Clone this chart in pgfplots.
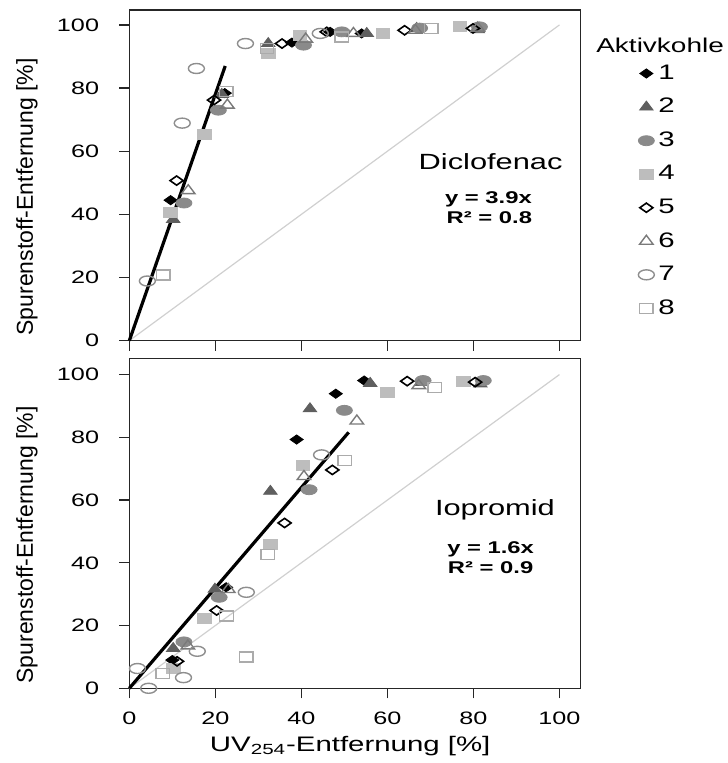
\documentclass[border=0pt]{standalone}
\usepackage{fontspec}
\setmainfont{Liberation Sans}[FakeStretch=1.4]
\newfontfamily\plainfont{Liberation Sans}
\usepackage{pgfplots}
\pgfplotsset{compat=1.18}
\definecolor{cA}{HTML}{000000}
\definecolor{cB}{HTML}{5F5F5F}
\definecolor{cC}{HTML}{8A8A8A}
\definecolor{cD}{HTML}{BDBDBD}
\definecolor{cF}{HTML}{7A7A7A}
\definecolor{cG}{HTML}{8E8E8E}
\definecolor{cH}{HTML}{ABABAB}
\definecolor{idline}{HTML}{D0D0D0}
\pgfplotsset{
  panel/.style={scale only axis, width=225.4pt, xmin=0, xmax=104.8, ymin=0, clip=false,
    xtick={0,20,...,100}, ytick={0,20,...,100}, tick align=outside, tick pos=left,
    major tick length=5pt,
    axis line style={line width=0.6pt, black!85},
    tick style={line width=0.6pt, black!85},
    /pgf/number format/assume math mode=true,
    ticklabel style={font=\fontsize{9}{9}\selectfont},
    yticklabel style={xshift=-6.6pt},
    ylabel={Spurenstoff-Entfernung [\%]},
    ylabel style={at={(axis description cs:-0.227,0.435)}, anchor=center, font=\plainfont\fontsize{11.5}{12}\selectfont},
    legend image code/.code={\draw[mark repeat=2,mark phase=2,##1] plot coordinates {(0cm,0cm)(0.16cm,0cm)(0.32cm,0cm)};},
  },
  sA/.style={only marks, mark=diamond*, mark size=2.3pt, mark options={xscale=1.9, fill=cA, draw=cA}},
  sB/.style={only marks, mark=triangle*, mark size=3pt, mark options={xscale=1.3, fill=cB, draw=cB}},
  sC/.style={only marks, mark=*, mark size=2.5pt, mark options={xscale=1.6, fill=cC, draw=cC}},
  sD/.style={only marks, mark=square*, mark size=2.5pt, mark options={xscale=1.35, fill=cD, draw=cD}},
  sE/.style={only marks, mark=diamond, mark size=2.3pt, mark options={xscale=1.9, draw=cA, line width=0.8pt}},
  sF/.style={only marks, mark=triangle, mark size=3pt, mark options={xscale=1.3, draw=cF, line width=0.7pt}},
  sG/.style={only marks, mark=o, mark size=2.5pt, mark options={xscale=1.6, draw=cG, line width=0.7pt}},
  sH/.style={only marks, mark=square, mark size=2.5pt, mark options={xscale=1.35, draw=cH, line width=0.7pt}},
}
\begin{document}
\begin{tikzpicture}
\useasboundingbox (0,0) rectangle (363.5pt,381.5pt);
% ---------- Diclofenac ----------
\begin{axis}[panel, at={(64.65pt,211.15pt)}, anchor=south west, height=165.3pt, ymax=104.7,
  xticklabels={},
  legend cell align=left,
  legend style={at={(axis description cs:1.115,0.86)}, anchor=north west, draw=none, fill=none,
    font=\fontsize{10.5}{11}\selectfont, row sep=4pt},
]
\addplot[idline, line width=0.6pt, forget plot] coordinates {(0,0)(100,100)};
\addplot[sA] coordinates {(9.6,44.5)(22.2,78.4)(37.8,94.4)(46.7,97.8)(54,97.3)};
\addlegendentry{1}
\addplot[sB] coordinates {(10.2,38.4)(21.5,78)(32.3,94.1)(55.2,97.3)(66.8,98.9)(81,98.5)};
\addlegendentry{2}
\addplot[sC] coordinates {(12.7,43.6)(20.7,73)(40.5,93.6)(49.4,97.8)(67.5,99)(81.4,99.4)};
\addlegendentry{3}
\addplot[sD] coordinates {(9.6,40.5)(17.4,65.2)(32.3,91)(39.7,96.7)(59,97.3)(76.8,99.4)};
\addlegendentry{4}
\addplot[sE] coordinates {(11,50.7)(19.7,76.2)(35.5,94.1)(45.9,97.8)(64,98.3)(79.9,98.9)};
\addlegendentry{5}
\addplot[sF] coordinates {(13.7,47.5)(22.8,74.6)(41,95.5)(52.1,97.3)(66.5,98.3)(81,99)};
\addlegendentry{6}
\addplot[sG] coordinates {(4.2,18.9)(12.3,68.9)(15.6,86.2)(27,94.1)(44.4,97.3)};
\addlegendentry{7}
\addplot[sH] coordinates {(7.9,20.8)(22.5,79)(32,92.5)(49.4,96.2)(70.2,98.9)};
\addlegendentry{8}
\addplot[black, line width=1.6pt, forget plot] coordinates {(0,0)(22.3,87)};
\node[anchor=base, font=\fontsize{11}{12}\selectfont] at (axis cs:84,54.1) {Diclofenac};
\node[anchor=base, font=\bfseries\fontsize{8.5}{9}\selectfont] at (axis cs:83.5,43.3) {y = 3.9x};
\node[anchor=base, font=\bfseries\fontsize{8.5}{9}\selectfont] at (axis cs:83.7,37.0) {R² = 0.8};
\node[anchor=base west, inner sep=0pt, font=\fontsize{10}{11}\selectfont] at (axis description cs:1.035,0.872) {Aktivkohle};
\end{axis}
% ---------- Iopromid ----------
\begin{axis}[panel, at={(64.65pt,37.35pt)}, anchor=south west, height=164.7pt, ymax=105,
  xticklabel style={yshift=-3.5pt},
  xlabel={UV\textsubscript{254}-Entfernung [\%]},
  xlabel style={at={(axis description cs:0.49,-0.176)}, anchor=center, font=\fontsize{10.5}{11}\selectfont},
]
\addplot[idline, line width=0.6pt] coordinates {(0,0)(100,100)};
\addplot[sA] coordinates {(10,9)(22.5,32.2)(38.9,79.3)(48,93.9)(54.6,98.1)};
\addplot[sB] coordinates {(10.2,12.7)(19.9,31.6)(32.8,62.8)(42,89.1)(56,97.2)(67.9,97.5)(81.6,97)};
\addplot[sC] coordinates {(12.7,14.8)(20.9,29)(41.8,63.3)(50,88.6)(68.3,98.1)(82.3,98.1)};
\addplot[sD] coordinates {(10.2,6.3)(17.4,22.2)(32.8,45.9)(40.4,70.9)(60,94.4)(77.7,97.9)};
\addplot[sE] coordinates {(11.1,8.6)(20.3,24.8)(36.1,52.7)(47.2,69.6)(64.6,97.9)(80.4,97.6)};
\addplot[sF] coordinates {(13.6,13.5)(23,31.5)(40.6,67.5)(52.9,85.2)(67.3,96.5)};
\addplot[sG] coordinates {(1.9,6.3)(4.5,0)(12.6,3.4)(15.8,11.8)(27.2,30.6)(44.7,74.4)};
\addplot[sH] coordinates {(7.8,4.7)(22.6,23)(27.2,10)(32.2,42.7)(50.1,72.6)(71,95.8)};
\addplot[black, line width=1.6pt] coordinates {(0,0)(51,81.6)};
\node[anchor=base, font=\fontsize{11}{12}\selectfont] at (axis cs:85,55.0) {Iopromid};
\node[anchor=base, font=\bfseries\fontsize{8.5}{9}\selectfont] at (axis cs:84,42.9) {y = 1.6x};
\node[anchor=base, font=\bfseries\fontsize{8.5}{9}\selectfont] at (axis cs:84,36.5) {R² = 0.9};
\end{axis}
\end{tikzpicture}
\end{document}
